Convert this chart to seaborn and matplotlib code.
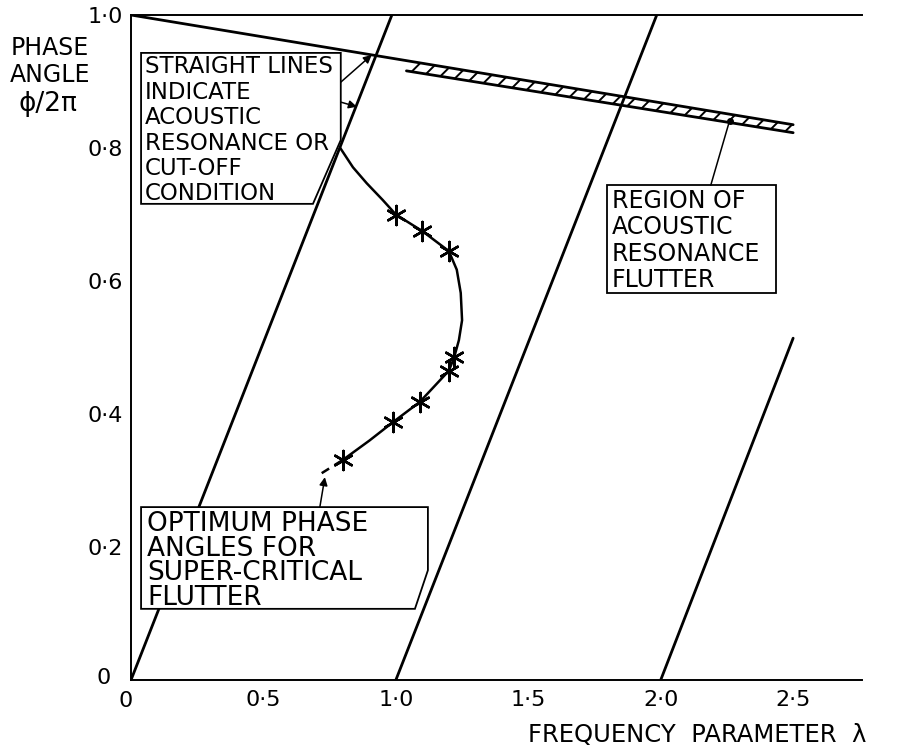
import numpy as np
import pandas as pd
import matplotlib
matplotlib.use("Agg")
import matplotlib.pyplot as plt
from matplotlib.patches import Polygon
import seaborn as sns

# ---------------- data ----------------
# acoustic resonance / cut-off straight lines
res1_x = [0.0, 0.985]
res1_y = [0.0, 1.0]
res2_x = [1.0, 1.985]
res2_y = [0.0, 1.0]
res3_x = [2.0, 2.5]
res3_y = [0.0, 0.514]
top_x = [0.0, 2.5]
top_y = [1.0, 0.835]

# region of acoustic resonance flutter (hatched band)
band_x = [1.04, 2.5]
band_upper = [0.931, 0.835]
band_lower = [0.916, 0.823]

# optimum phase angle curve
curve_x = [0.79, 0.838, 0.89, 0.95, 1.0, 1.1, 1.2, 1.23, 1.245, 1.25, 1.238, 1.22, 1.2, 1.09, 0.99, 0.90, 0.80]
curve_y = [0.80, 0.771, 0.747, 0.722, 0.70, 0.675, 0.645, 0.617, 0.582, 0.541, 0.511, 0.485, 0.465, 0.418, 0.388, 0.36, 0.331]
tail_x = [0.80, 0.72]
tail_y = [0.331, 0.311]

# measured points (stars)
star_x = [1.0, 1.1, 1.2, 1.22, 1.2, 1.09, 0.99, 0.80]
star_y = [0.70, 0.675, 0.645, 0.485, 0.465, 0.418, 0.388, 0.331]

xticks = [0.5, 1.0, 1.5, 2.0, 2.5]
xtick_labels = ["0·5", "1·0", "1·5", "2·0", "2·5"]
yticks = [0.2, 0.4, 0.6, 0.8, 1.0]
ytick_labels = ["0·2", "0·4", "0·6", "0·8", "1·0"]

note1_lines = ["STRAIGHT LINES", "INDICATE", "ACOUSTIC", "RESONANCE OR", "CUT-OFF", "CONDITION"]
note2 = "OPTIMUM PHASE\nANGLES FOR\nSUPER-CRITICAL\nFLUTTER"
note3 = "REGION OF\nACOUSTIC\nRESONANCE\nFLUTTER"

# ---------------- figure ----------------
sns.set_style("white")
plt.rcParams["font.family"] = ["DejaVu Sans"]
plt.rcParams["text.color"] = "black"
plt.rcParams["xtick.color"] = "black"
plt.rcParams["ytick.color"] = "black"
plt.rcParams["hatch.linewidth"] = 1.4

W, H = 897, 749
fig = plt.figure(figsize=(W / 100, H / 100), dpi=100)
ax = fig.add_axes([131 / W, 69 / H, (862 - 131) / W, (680 - 15) / H])
ax.set_xlim(0, 2.76)
ax.set_ylim(0, 1.0)


def px(x, y):
    return x / W, 1 - y / H


lw = 2.0
for xs, ys in [(res1_x, res1_y), (res2_x, res2_y), (res3_x, res3_y), (top_x, top_y)]:
    sns.lineplot(x=xs, y=ys, ax=ax, color="black", linewidth=lw, sort=False, estimator=None)

# hatched band
sns.lineplot(x=band_x, y=band_lower, ax=ax, color="black", linewidth=lw, sort=False,
             estimator=None)
ax.fill_between(band_x, band_lower, band_upper, facecolor="none", edgecolor="black",
                hatch="//", linewidth=0)

# curve
sns.lineplot(x=curve_x, y=curve_y, ax=ax, color="black", linewidth=1.8, sort=False,
             estimator=None)
sns.lineplot(x=tail_x, y=tail_y, ax=ax, color="black", linewidth=1.8, sort=False,
             estimator=None, linestyle=(0, (4, 2.5)))
sns.scatterplot(x=star_x, y=star_y, ax=ax, marker=(6, 2, 0), s=190,
                color="black", edgecolor="black", linewidth=1.8, zorder=5)

# axes styling
ax.spines["right"].set_visible(False)
for s in ["left", "bottom", "top"]:
    ax.spines[s].set_linewidth(1.4)
    ax.spines[s].set_color("black")

ax.set_xticks(xticks)
ax.set_xticklabels(xtick_labels)
ax.set_yticks(yticks)
ax.set_yticklabels(ytick_labels)
ax.tick_params(axis="both", direction="in", length=12, width=1.2, labelsize=16)
ax.tick_params(axis="y", pad=6)
ax.tick_params(axis="x", pad=7)

# zero labels
fig.text(*px(104, 678), "0", ha="center", va="center", fontsize=16)
fig.text(*px(126, 701), "0", ha="center", va="center", fontsize=16)

# axis titles
fig.text(*px(50, 48), "PHASE", ha="center", va="center", fontsize=17)
fig.text(*px(50, 75), "ANGLE", ha="center", va="center", fontsize=17)
fig.text(*px(48, 104), "ϕ/2π", ha="center", va="center", fontsize=19)
fig.text(*px(866, 735), "FREQUENCY  PARAMETER  λ", ha="right", va="center", fontsize=17.5)

# annotation boxes
box1 = [(0.038, 0.943), (0.792, 0.943), (0.792, 0.812), (0.687, 0.716), (0.038, 0.716)]
box2 = [(0.038, 0.26), (1.121, 0.26), (1.121, 0.165), (1.072, 0.107), (0.038, 0.107)]
box3 = [(1.796, 0.744), (2.434, 0.744), (2.434, 0.582), (1.796, 0.582)]
for b in (box1, box2, box3):
    ax.add_patch(Polygon(b, closed=True, facecolor="white", edgecolor="black",
                         linewidth=1.3, zorder=3))

for i, line in enumerate(note1_lines):
    fig.text(*px(145, 65 + 25.4 * i + 8.4), line, ha="left", va="baseline",
             fontsize=16.5, zorder=4)
fig.text(*px(147, 511), note2, ha="left", va="top", fontsize=19, linespacing=0.93, zorder=4)
fig.text(*px(612, 189), note3, ha="left", va="top", fontsize=17, linespacing=1.12, zorder=4)

arrow_kw = dict(arrowstyle="-|>", color="black", lw=1.1, mutation_scale=12,
                shrinkA=0, shrinkB=0)
ax.annotate("", xy=(0.909, 0.94), xytext=(0.792, 0.899), arrowprops=arrow_kw, zorder=4)
ax.annotate("", xy=(0.853, 0.862), xytext=(0.792, 0.869), arrowprops=arrow_kw, zorder=4)
ax.annotate("", xy=(0.732, 0.305), xytext=(0.713, 0.26), arrowprops=arrow_kw, zorder=4)
ax.annotate("", xy=(2.26, 0.841), xytext=(2.189, 0.744),
            arrowprops=dict(arrowstyle="-", color="black", lw=1.1, shrinkA=0, shrinkB=0))
ax.plot([2.26], [0.841], "o", color="black", markersize=4)

fig.savefig("out.png", dpi=100)
